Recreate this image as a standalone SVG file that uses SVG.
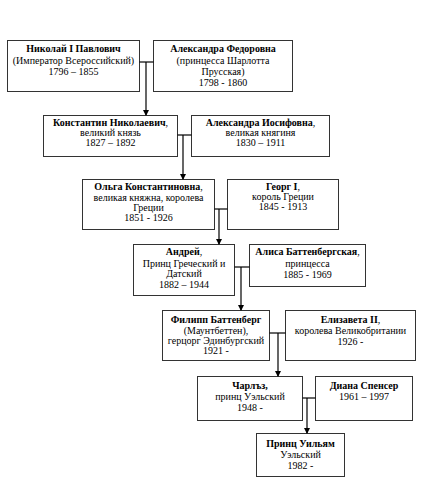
<svg xmlns="http://www.w3.org/2000/svg" width="424" height="498" viewBox="0 0 424 498">
<defs>
<marker id="arr" markerWidth="6" markerHeight="6" refX="5" refY="3" orient="auto" markerUnits="userSpaceOnUse">
<path d="M0,0 L6,3 L0,6 Z" fill="#000"/>
</marker>
<style>
.box{fill:#fff;stroke:#333;stroke-width:1}
text{font-family:"Liberation Serif","Times New Roman",serif;font-size:10px;fill:#000;text-anchor:middle}
.b{font-weight:bold}
.c{fill:none;stroke:#000;stroke-width:1.2}
</style>
</defs>
<rect width="424" height="498" fill="#fff"/>
<g id="nikolai">
<rect class="box" x="7.5" y="40.5" width="132" height="51"/>
<text x="73.5" y="52"><tspan class="b">Николай I Павлович</tspan></text>
<text x="73.5" y="64">(Император Всероссийский)</text>
<text x="73.5" y="75">1796 – 1855</text>
</g>
<g id="alexandra-f">
<rect class="box" x="153.5" y="40.5" width="139" height="51"/>
<text x="223" y="52" class="b">Александра Федоровна</text>
<text x="223" y="64">(принцесса Шарлотта</text>
<text x="223" y="75">Прусская)</text>
<text x="223" y="86">1798 - 1860</text>
</g>
<g id="konstantin">
<rect class="box" x="43.5" y="115.5" width="134" height="41"/>
<text x="110.5" y="126"><tspan class="b">Константин Николаевич</tspan>,</text>
<text x="110.5" y="136">великий князь</text>
<text x="110.5" y="146">1827 – 1892</text>
</g>
<g id="alexandra-i">
<rect class="box" x="191.5" y="115.5" width="138" height="41"/>
<text x="260.5" y="126"><tspan class="b">Александра Иосифовна</tspan>,</text>
<text x="260.5" y="136">великая княгиня</text>
<text x="260.5" y="146">1830 – 1911</text>
</g>
<g id="olga">
<rect class="box" x="82.5" y="179.5" width="132" height="50"/>
<text x="148.5" y="190"><tspan class="b">Ольга Константиновна</tspan>,</text>
<text x="148.5" y="201">великая княжна, королева</text>
<text x="148.5" y="211">Греции</text>
<text x="148.5" y="221">1851 - 1926</text>
</g>
<g id="georg">
<rect class="box" x="227.5" y="179.5" width="111" height="50"/>
<text x="283" y="190"><tspan class="b">Георг I</tspan>,</text>
<text x="283" y="200">король Греции</text>
<text x="283" y="210">1845 - 1913</text>
</g>
<g id="andrei">
<rect class="box" x="133.5" y="244.5" width="101" height="51"/>
<text x="184" y="255"><tspan class="b">Андрей</tspan>,</text>
<text x="184" y="267">Принц Греческий и</text>
<text x="184" y="277">Датский</text>
<text x="184" y="288">1882 – 1944</text>
</g>
<g id="alisa">
<rect class="box" x="249.5" y="244.5" width="116" height="42"/>
<text x="307.5" y="255"><tspan class="b">Алиса Баттенбергская</tspan>,</text>
<text x="307.5" y="267">принцесса</text>
<text x="307.5" y="278">1885 - 1969</text>
</g>
<g id="philip">
<rect class="box" x="162.5" y="310.5" width="107" height="50"/>
<text x="216" y="323" class="b">Филипп Баттенберг</text>
<text x="216" y="334">(Маунтбеттен),</text>
<text x="216" y="344">герцорг Эдинбургский</text>
<text x="216" y="354">1921 -</text>
</g>
<g id="elizabeth">
<rect class="box" x="285.5" y="310.5" width="130" height="50"/>
<text x="350.5" y="323"><tspan class="b">Елизавета II</tspan>,</text>
<text x="350.5" y="334">королева Великобритании</text>
<text x="350.5" y="345">1926 -</text>
</g>
<g id="charles">
<rect class="box" x="197.5" y="376.5" width="105" height="44"/>
<text x="250" y="389" class="b">Чарлъз,</text>
<text x="250" y="400">принц Уэльский</text>
<text x="250" y="411">1948 -</text>
</g>
<g id="diana">
<rect class="box" x="315.5" y="376.5" width="97" height="44"/>
<text x="364" y="389" class="b">Диана Спенсер</text>
<text x="364" y="400">1961 – 1997</text>
</g>
<g id="william">
<rect class="box" x="256.5" y="433.5" width="88" height="43"/>
<text x="300.5" y="447" class="b">Принц Уильям</text>
<text x="300.5" y="458">Уэльский</text>
<text x="300.5" y="469">1982 -</text>
</g>
<g id="connectors">
<path class="c" d="M139.5,62 H153.5"/>
<path class="c" d="M146,62 V115" marker-end="url(#arr)"/>
<path class="c" d="M177.5,135 H191.5"/>
<path class="c" d="M183,135 V179" marker-end="url(#arr)"/>
<path class="c" d="M214.5,209 H227.5"/>
<path class="c" d="M219,209 V244" marker-end="url(#arr)"/>
<path class="c" d="M234.5,267 H249.5"/>
<path class="c" d="M241,267 V310" marker-end="url(#arr)"/>
<path class="c" d="M269.5,333 H285.5"/>
<path class="c" d="M278,333 V376" marker-end="url(#arr)"/>
<path class="c" d="M302.5,398 H315.5"/>
<path class="c" d="M307,398 V433" marker-end="url(#arr)"/>
</g>
</svg>
